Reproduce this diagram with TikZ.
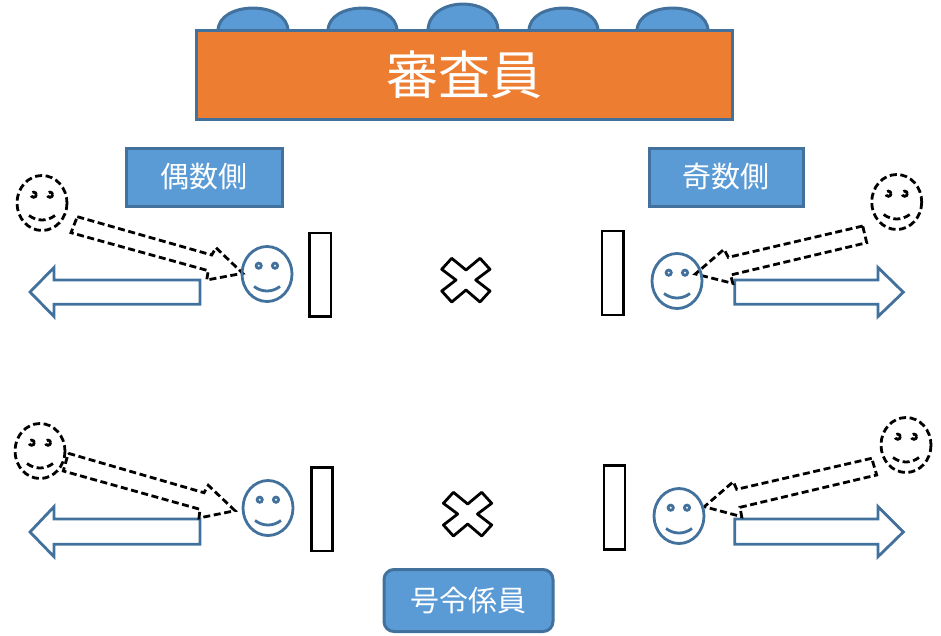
\documentclass[tikz,border=0pt]{standalone}
\usepackage{fontspec}
\setmainfont{Noto Sans CJK JP}
\definecolor{bluefill}{HTML}{5B9BD5}
\definecolor{blueline}{HTML}{41719C}
\definecolor{orangefill}{HTML}{ED7D31}
\tikzset{
  panel/.style={draw=blueline,line width=3pt,fill=bluefill,text=white,inner sep=0pt,align=center},
  titlebox/.style={panel,rectangle,fill=orangefill,minimum width=536pt,minimum height=89pt,font=\fontsize{52}{56}\selectfont},
  sidebox/.style={panel,rectangle,minimum height=58pt,font=\fontsize{29}{32}\selectfont},
  callbox/.style={panel,rectangle,rounded corners=10pt,minimum width=169pt,minimum height=62pt,font=\fontsize{29}{32}\selectfont},
  dome/.style={draw=blueline,line width=3pt,fill=bluefill},
  shaft/.style={draw=blueline,line width=2.8pt,line join=miter,fill=white},
  post/.style={draw=black,line width=2.8pt,fill=white},
  crossmark/.style={draw=black,line width=2.8pt,line join=round,fill=white},
  solidface/.style={draw=blueline,color=blueline,line width=2.8pt},
  dashface/.style={draw=black,color=black,line width=2.8pt,dash pattern=on 7pt off 3.6pt},
  dashmove/.style={draw=black,line width=2.8pt,dash pattern=on 7pt off 3.6pt},
  face/.pic={
    \draw (0,0) circle[x radius=25,y radius=27.5];
    \draw (-8.3,-8.3) circle[radius=2.6];
    \draw (8,-8.3) circle[radius=2.6];
    \draw (-13,12.5) .. controls (-5,18.5) and (5,18.5) .. (13,12.5);
  },
  cross/.pic={
    \draw[crossmark] (-24.3,-10.7)--(-14.3,-21.7)--(0,-10)--(14,-21.7)--(24,-10.7)--(9.7,0)--(24,11)--(14,22)--(0,10)--(-14.3,22)--(-24.3,11)--(-10,0)--cycle;
  }
}
\begin{document}
\begin{tikzpicture}[x=1pt,y=-1pt]
\useasboundingbox (0,0) rectangle (941,635);
% judges' heads behind the table
\foreach \a/\b/\t in {218/288/8,328/397/8,428/498/4,529/598/8,637/708/8}{
  \draw[dome] (\a,31) .. controls (\a,{31-(31-\t)*1.33}) and (\b,{31-(31-\t)*1.33}) .. (\b,31);
}
\node[titlebox] (judges) at (464,75) {審査員};
\node[sidebox,minimum width=156pt] (even) at (204,177) {偶数側};
\node[sidebox,minimum width=154pt] (odd) at (726,177) {奇数側};
\node[callbox] (starter) at (468.5,600.5) {号令係員};
% lane posts
\draw[post] (309.5,233) rectangle (331,316.5);
\draw[post] (602,231) rectangle (623.5,315);
\draw[post] (311.5,467.5) rectangle (332.5,551);
\draw[post] (604,465.5) rectangle (625,549.5);
% crosses
\pic at (466,280) {cross};
\pic at (467.7,514) {cross};
% solid arrows
\draw[shaft] (200,280)--(54,280)--(54,267.5)--(30,292)--(54,316.5)--(54,304.3)--(200,304.3)--cycle;
\draw[shaft] (734.7,280)--(878,280)--(878,267.5)--(903.3,292.2)--(878,316.5)--(878,304.3)--(734.7,304.3)--cycle;
\draw[shaft] (200,519)--(54,519)--(54,506.7)--(30,532)--(54,556.7)--(54,544.3)--(200,544.3)--cycle;
\draw[shaft] (734.7,519)--(878,519)--(878,506.7)--(903.3,532)--(878,556.7)--(878,544.3)--(734.7,544.3)--cycle;
% dashed arrows
\draw[dashmove] (77.3,216.7)--(211.7,255)--(216,247.7)--(242.7,273.3)--(206.7,280)--(208.3,270.7)--(71,232.7)--cycle;
\draw[dashmove] (862.7,226)--(728.3,257.3)--(724,249.3)--(695.3,274)--(732.7,283.3)--(730.7,275)--(866.7,242.7)--cycle;
\draw[dashmove] (68.3,453.3)--(204,492.7)--(208.3,485.3)--(235,510.7)--(199,518)--(200,509.3)--(63.3,471)--cycle;
\draw[dashmove] (871.7,458.3)--(736.7,489.3)--(733.3,481.7)--(704.3,506.7)--(741.7,516.7)--(740,507.3)--(876.7,475)--cycle;
% faces
\pic[solidface] at (267,274) {face};
\pic[solidface] at (677,281) {face};
\pic[solidface] at (268,508) {face};
\pic[solidface] at (679,516) {face};
\pic[dashface] at (42,203) {face};
\pic[dashface] at (896.7,202) {face};
\pic[dashface] at (40,451) {face};
\pic[dashface] at (906,445) {face};
\end{tikzpicture}
\end{document}
